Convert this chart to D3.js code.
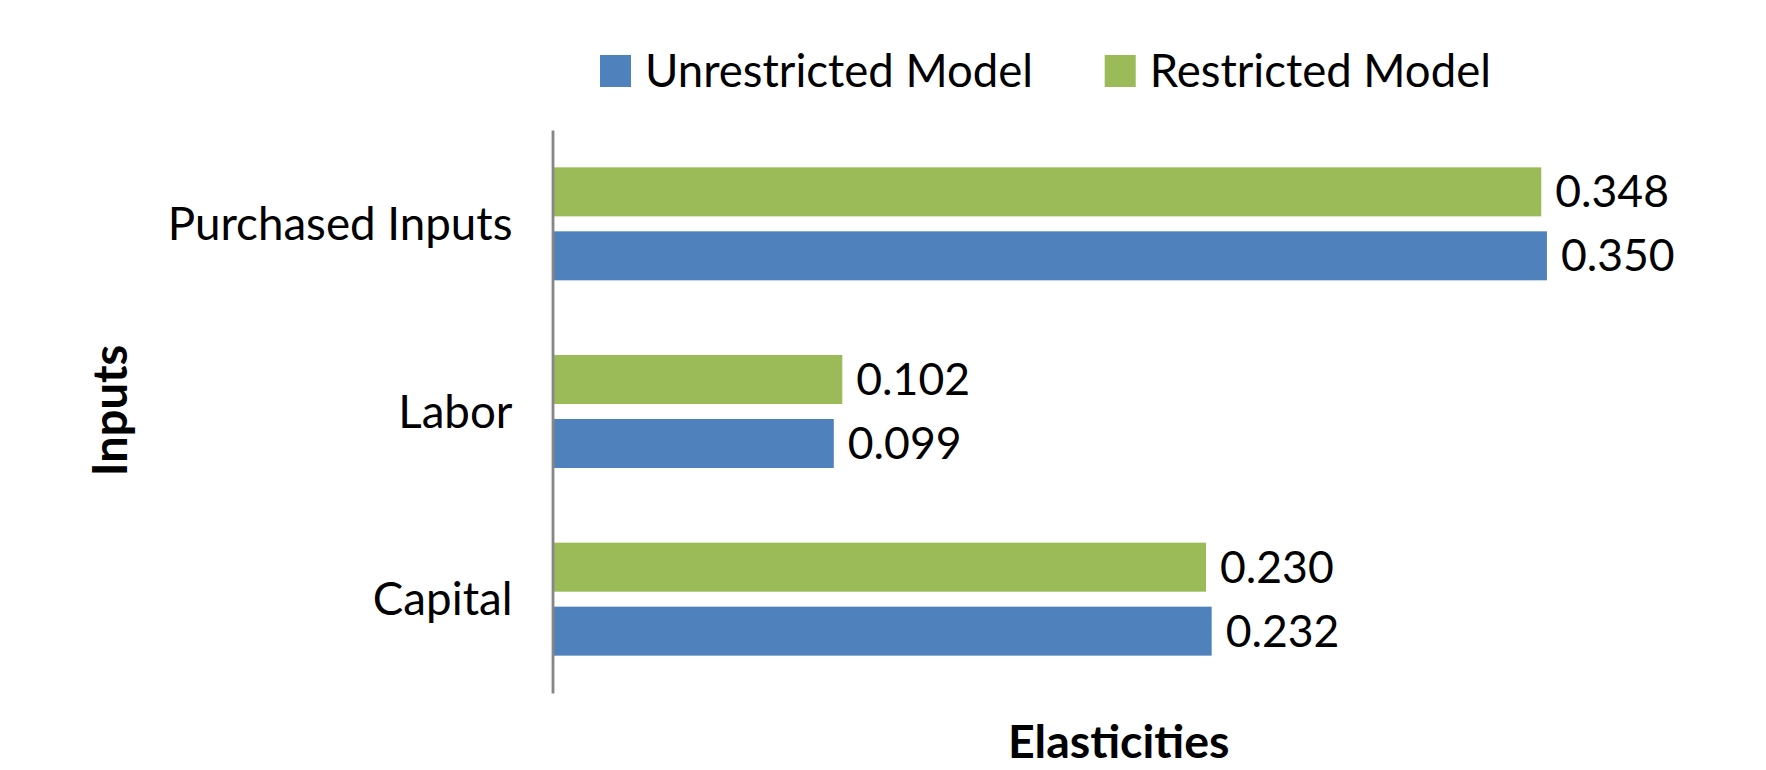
<!DOCTYPE html>
<html><head><meta charset="utf-8">
<script src="https://cdn.jsdelivr.net/npm/d3@7"></script>
<style>
html,body{margin:0;padding:0;background:#fff;}
svg text{font-family:Lato,"Open Sans",sans-serif;fill:#000;}
</style></head>
<body>
<svg id="chart" width="1766" height="770"></svg>
<script>
const categories = ["Purchased Inputs", "Labor", "Capital"];
const seriesNames = ["Unrestricted Model", "Restricted Model"];
const unrestricted = [0.350, 0.099, 0.232];
const restricted = [0.348, 0.102, 0.230];
const colors = {"Unrestricted Model": "#4F81BD", "Restricted Model": "#9BBB59"};
const xTitle = "Elasticities";
const yTitle = "Inputs";

const svg = d3.select("#chart");
const plotL = 552.5, plotR = 1689, plotT = 130, plotB = 693;

const x = d3.scaleLinear().domain([0, 0.4]).range([plotL, plotR]);
const y0 = d3.scaleBand().domain(categories).range([plotT, plotB]).paddingInner(0.398).paddingOuter(0.199);
const drawOrder = ["Restricted Model", "Unrestricted Model"];
const y1 = d3.scaleBand().domain(drawOrder).range([0, y0.bandwidth()]).paddingInner(0.234);

const rows = categories.map((c, i) => ({cat: c, values: {"Unrestricted Model": unrestricted[i], "Restricted Model": restricted[i]}}));

const fmt = d3.format(".3f");
const g = svg.append("g");
rows.forEach(r => {
  drawOrder.forEach(s => {
    const v = r.values[s];
    const yy = y0(r.cat) + y1(s);
    g.append("rect").attr("x", x(0)).attr("y", yy).attr("width", x(v) - x(0)).attr("height", y1.bandwidth()).attr("fill", colors[s]);
    g.append("text").attr("x", x(v) + 14).attr("y", yy + y1.bandwidth() / 2).attr("dy", "0.35em")
      .attr("font-size", 44.5).text(fmt(v));
  });
});

// Y axis
const ax = svg.append("g").attr("transform", `translate(${plotL},0)`)
  .call(d3.axisLeft(y0).tickSize(0).tickSizeOuter(0).tickPadding(40));
ax.select(".domain").attr("stroke", "#868686").attr("stroke-width", 2.8);
ax.selectAll(".tick text").attr("font-size", 45.7).attr("font-family", "Lato").attr("fill", "#000").attr("dy", "0.35em");

// Axis titles
svg.append("text").attr("x", (plotL + plotR) / 2 - 2).attr("y", 757.5).attr("text-anchor", "middle")
  .attr("font-size", 46.5).attr("font-weight", "bold").text(xTitle);
svg.append("text").attr("transform", `translate(127,${(plotT + plotB) / 2 - 1}) rotate(-90)`).attr("text-anchor", "middle")
  .attr("font-size", 47).attr("font-weight", "bold").text(yTitle);

// Legend
const legendX = [600, 1104.7];
seriesNames.forEach((s, i) => {
  const lg = svg.append("g").attr("transform", `translate(${legendX[i]},55)`);
  lg.append("rect").attr("width", 31).attr("height", 32).attr("fill", colors[s]);
  lg.append("text").attr("x", 45).attr("y", 31.7).attr("font-size", 45.5).text(s);
});
</script>
</body></html>
